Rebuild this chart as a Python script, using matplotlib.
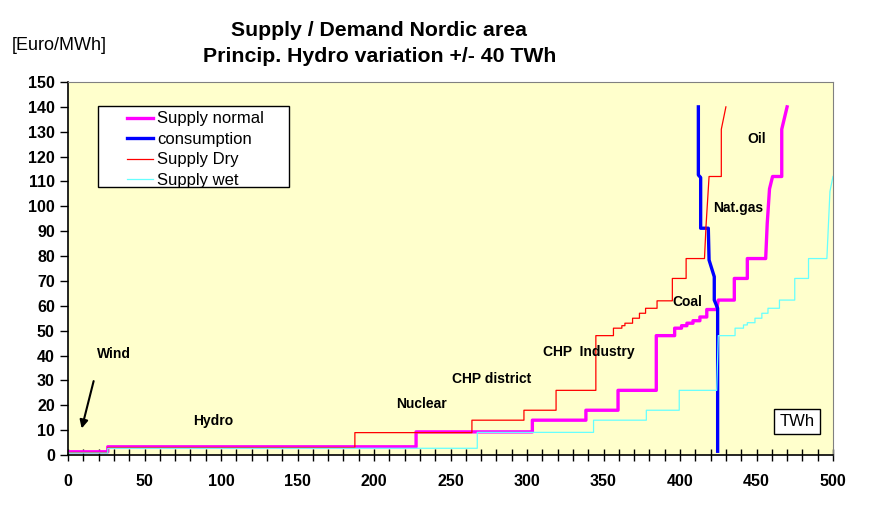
import numpy as np
import matplotlib.pyplot as plt
from matplotlib.ticker import MultipleLocator
from matplotlib.patches import Rectangle

plt.rcParams['font.family'] = ['Liberation Sans', 'DejaVu Sans']

# supply curves (TWh, Euro/MWh)
normal_x = [0, 26, 26, 227.5, 227.5, 303.5, 303.5, 338.5, 338.5, 359.5, 359.5, 384.5, 384.5,
            396.5, 396.5, 401, 401, 404.5, 404.5, 408.5, 408.5, 413, 413, 417.5, 417.5, 424, 425,
            435.5, 435.5, 444, 444, 456, 457, 458.5, 460.5, 466.5, 466.5, 470]
normal_y = [1.3, 1.3, 3.3, 3.3, 9.3, 9.3, 14, 14, 18, 18, 26, 26, 48,
            48, 51, 51, 52, 52, 53, 53, 54, 54, 55.5, 55.5, 58.5, 58.5, 62.3,
            62.3, 71, 71, 79, 79, 93, 107, 112, 112, 131, 140]

cons_x = [412, 412, 413.5, 413.5, 418.5, 419, 422.4, 422.4, 424.6, 424.6]
cons_y = [140, 112.6, 111.6, 91.2, 91.2, 78.4, 71.7, 62.3, 59, 1.5]

dry_x = [0, 26, 26, 187.5, 187.5, 264, 264, 298, 298, 319, 319, 345, 345, 356.5, 356.5,
         362, 362, 364, 364, 369, 369, 373.5, 373.5, 377.5, 377.5, 385, 385, 395, 395,
         404, 404, 416, 417, 419, 427, 427, 430]
dry_y = [1, 1, 3, 3, 9, 9, 14, 14, 18, 18, 26, 26, 48, 48, 51,
         51, 52, 52, 53, 53, 55, 55, 57, 57, 59, 59, 62, 62, 71,
         71, 79, 79, 92, 112, 112, 131, 140]

wet_x = [0, 26, 26, 267.5, 267.5, 343.5, 343.5, 378, 378, 399.5, 399.5, 424, 425, 436, 436,
         441.5, 441.5, 444, 444, 449, 449, 453.5, 453.5, 457.5, 457.5, 465, 465, 475, 475,
         484, 484, 496, 498, 500]
wet_y = [0.8, 0.8, 2.7, 2.7, 9.1, 9.1, 14, 14, 18, 18, 26, 26, 48, 48, 51,
         51, 52.3, 52.3, 53.2, 53.2, 55, 55, 57, 57, 59, 59, 62.3, 62.3, 71,
         71, 79, 79, 106, 112]

labels = ["Wind", "Hydro", "Nuclear", "CHP district", "CHP  Industry", "Coal", "Nat.gas", "Oil"]
label_x = [19, 95, 231, 277, 340.5, 405, 438, 450]
label_y = [40.6, 13.7, 20.5, 30.6, 41.4, 61.5, 99.3, 127]

fig = plt.figure(figsize=(8.74, 5.22), dpi=100)
ax = fig.add_axes([68/874, 67/522, 765/874, 373/522])
ax.set_facecolor("#FFFFCC")

ax.plot(normal_x, normal_y, color="#FF00FF", lw=2.4, label="Supply normal")
ax.plot(cons_x, cons_y, color="#0000FF", lw=2.4, label="consumption")
ax.plot(dry_x, dry_y, color="#FF0000", lw=0.9, label="Supply Dry")
ax.plot(wet_x, wet_y, color="#66FFFF", lw=0.9, label="Supply wet")

for t, x, y in zip(labels, label_x, label_y):
    ha = "left" if t == "Wind" else "center"
    ax.text(x, y, t, ha=ha, va="center", fontsize=10, fontweight="bold")
ax.annotate("", xy=(8.5, 9.6), xytext=(17.2, 30.8),
            arrowprops=dict(arrowstyle="-|>", color="black", lw=1.5, mutation_scale=12))

ax.text(476.5, 13.3, "TWh", ha="center", va="center", fontsize=12,
        bbox=dict(boxstyle="square,pad=0.3", fc="white", ec="black", lw=1))

ax.set_xlim(0, 500)
ax.set_ylim(0, 150)
ax.xaxis.set_major_locator(MultipleLocator(50))
ax.xaxis.set_minor_locator(MultipleLocator(10))
ax.yaxis.set_major_locator(MultipleLocator(10))
ax.tick_params(axis="x", which="both", direction="inout", length=8, width=1)
ax.tick_params(axis="y", direction="out", length=6, width=1)
ax.tick_params(labelsize=11.5)
for lab in ax.get_xticklabels() + ax.get_yticklabels():
    lab.set_fontweight("bold")
ax.tick_params(axis="x", pad=10)

ax.spines["left"].set_color("black")
ax.spines["bottom"].set_color("black")
ax.spines["left"].set_linewidth(1.2)
ax.spines["bottom"].set_linewidth(1.2)
ax.spines["top"].set_color("#808080")
ax.spines["right"].set_color("#808080")

# legend box drawn separately, it is much wider than the entries
ax.add_patch(Rectangle((0.0392, 0.7185), 0.2497, 0.2172, transform=ax.transAxes,
                       fc="white", ec="black", lw=1, zorder=4))
leg = ax.legend(loc="upper left", bbox_to_anchor=(0.077, 0.921), fontsize=12,
                frameon=False, handlelength=1.55, handletextpad=0.25,
                borderpad=0, labelspacing=0.33, borderaxespad=0)
leg.set_zorder(5)

fig.text(379/874, 1 - 30/522, "Supply / Demand Nordic area", ha="center", va="center",
         fontsize=15.3, fontweight="bold")
fig.text(380/874, 1 - 57/522, "Princip. Hydro variation +/- 40 TWh", ha="center", va="center",
         fontsize=15.3, fontweight="bold")
fig.text(12/874, 1 - 45/522, "[Euro/MWh]", ha="left", va="center", fontsize=13)

plt.savefig("out.png", dpi=100)
